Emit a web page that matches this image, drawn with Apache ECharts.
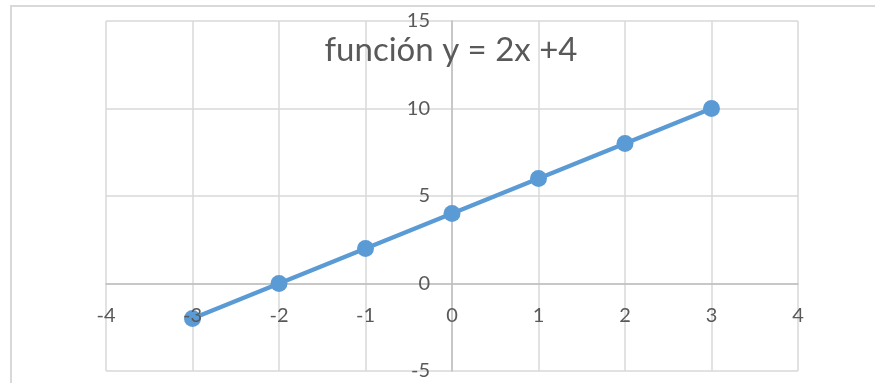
<!DOCTYPE html>
<html>
<head>
<meta charset="utf-8">
<script src="https://cdn.jsdelivr.net/npm/echarts@6/dist/echarts.min.js"></script>
<style>
  html, body { margin: 0; padding: 0; background: #fff; }
  #chart { width: 875px; height: 383px; }
</style>
</head>
<body>
<div id="chart"></div>
<script>
// datos de la función y = 2x + 4
const xValues = [-3, -2, -1, 0, 1, 2, 3];
const yValues = [-2, 0, 2, 4, 6, 8, 10];
const titleText = 'función y = 2x +4';

const textColor = '#595959';
const font = 'Lato, "Open Sans", sans-serif';

const points = xValues.map((x, i) => [x, yValues[i]]);

const chart = echarts.init(document.getElementById('chart'));

// área de trazado
const gridLeft = 106, gridRight = 77, gridTop = 21, gridBottom = 12;
const xMin = -4, xMax = 4, yMin = -5, yMax = 15;
const plotW = 875 - gridLeft - gridRight;
const plotH = 383 - gridTop - gridBottom;
// desplazamiento para llevar los ejes al cero
const yAxisOffset = -plotW * (0 - xMin) / (xMax - xMin);
const xAxisOffset = -plotH * (0 - yMin) / (yMax - yMin);

chart.setOption({
  animation: false,
  backgroundColor: '#fff',
  title: {
    text: titleText,
    left: 446,
    top: 29,
    textAlign: 'center',
    textStyle: { color: textColor, fontFamily: font, fontSize: 33, fontWeight: 'normal' }
  },
  graphic: [{
    type: 'rect',
    shape: { x: 11, y: 6, width: 900, height: 420 },
    style: { fill: 'none', stroke: '#d9d9d9', lineWidth: 2 },
    silent: true,
    z: -10
  }],
  grid: {
    left: gridLeft, right: gridRight, top: gridTop, bottom: gridBottom,
    outerBoundsMode: 'none'
  },
  xAxis: [{
    type: 'value',
    position: 'bottom',
    offset: xAxisOffset,
    min: xMin,
    max: xMax,
    interval: 1,
    axisLine: { onZero: false, lineStyle: { color: '#bfbfbf', width: 1.5 } },
    axisTick: { show: false },
    axisLabel: { show: false },
    splitLine: { lineStyle: { color: '#d9d9d9', width: 1.5 } }
  }, {
    // solo etiquetas, por encima de la serie
    type: 'value',
    position: 'bottom',
    offset: xAxisOffset,
    min: xMin,
    max: xMax,
    interval: 1,
    z: 10,
    axisLine: { show: false, onZero: false },
    axisTick: { show: false },
    splitLine: { show: false },
    axisLabel: { color: textColor, fontFamily: font, fontSize: 20, margin: 22 }
  }],
  yAxis: {
    type: 'value',
    position: 'left',
    offset: yAxisOffset,
    min: yMin,
    max: yMax,
    interval: 5,
    axisLine: { show: true, onZero: false, lineStyle: { color: '#bfbfbf', width: 1.5 } },
    axisTick: { show: false },
    axisLabel: { color: textColor, fontFamily: font, fontSize: 20, margin: 22 },
    splitLine: { lineStyle: { color: '#d9d9d9', width: 1.5 } }
  },
  series: [{
    type: 'line',
    xAxisIndex: 0,
    yAxisIndex: 0,
    data: points,
    symbol: 'circle',
    symbolSize: 17,
    lineStyle: { color: '#5b9bd5', width: 4.25 },
    itemStyle: { color: '#5b9bd5' }
  }]
});
</script>
</body>
</html>
